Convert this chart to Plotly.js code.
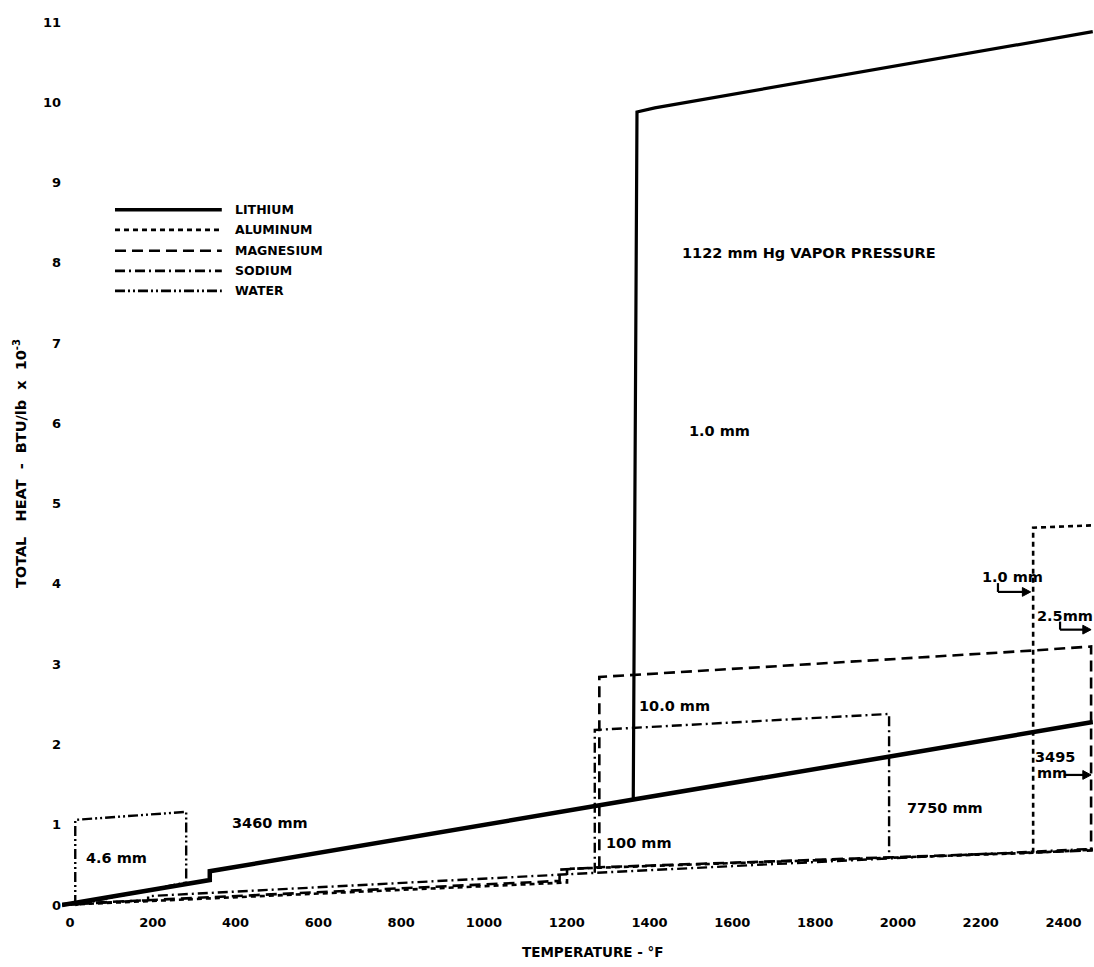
<!DOCTYPE html>
<html><head><meta charset="utf-8">
<script src="https://cdn.plot.ly/plotly-3.0.1.min.js"></script>
<style>html,body{margin:0;padding:0;background:#fff}</style>
</head><body><div id="chart" style="width:1094px;height:967px"></div>
<script>
// Temperature (°F) and total heat (BTU/lb x 10^-3)
const xTickVals = [0, 200, 400, 600, 800, 1000, 1200, 1400, 1600, 1800, 2000, 2200, 2400];
const yTickVals = [0, 1, 2, 3, 4, 5, 6, 7, 8, 9, 10, 11];

const lithiumLiquidT = [0, 357, 357, 800, 1377, 2000, 2490];
const lithiumLiquidH = [0.00, 0.31, 0.42, 0.81, 1.31, 1.85, 2.28];
const lithiumVaporT = [1380, 1389, 1432, 2490];
const lithiumVaporH = [1.31, 9.88, 9.93, 10.88];

const aluminumT = [0, 1220, 1220, 2346, 2490, null, 2346, 2346, 2490];
const aluminumH = [0.00, 0.28, 0.45, 0.65, 0.69, null, 0.65, 4.70, 4.73];

const magnesiumT = [0, 1202, 1202, 1298, 2490, null, 1298, 1298, 2346, 2486, 2486];
const magnesiumH = [0.01, 0.30, 0.44, 0.47, 0.68, null, 0.47, 2.84, 3.17, 3.22, 0.68];

const sodiumT = [0, 208, 208, 1287, 1998, 2490, null, 1287, 1287, 1998, 1998];
const sodiumH = [0.00, 0.06, 0.11, 0.40, 0.58, 0.70, null, 0.40, 2.18, 2.38, 0.58];

const waterT = [32, 300, null, 32, 32, 300, 300];
const waterH = [0.00, 0.28, null, 0.00, 1.06, 1.16, 0.28];

const seriesNames = ['LITHIUM', 'ALUMINUM', 'MAGNESIUM', 'SODIUM', 'WATER'];

const K = 'black';
const dashes = {
  LITHIUM: 'solid',
  ALUMINUM: '5px,4px',
  MAGNESIUM: '11px,6px',
  SODIUM: '10px,4px,2px,4px',
  WATER: '10px,3px,2px,3px,2px,3px'
};
const LEGFONT = {family: 'DejaVu Sans', size: 12.5, color: K, weight: 'bold'};
const FONT = {family: 'DejaVu Sans', size: 14.5, color: K, weight: 'bold'};

const traces = [
  {x: lithiumLiquidT, y: lithiumLiquidH, mode: 'lines', line: {color: K, width: 4.5}},
  {x: lithiumVaporT, y: lithiumVaporH, mode: 'lines', line: {color: K, width: 3.2}},
  {x: aluminumT, y: aluminumH, mode: 'lines', line: {color: K, width: 2.6, dash: dashes.ALUMINUM}},
  {x: magnesiumT, y: magnesiumH, mode: 'lines', line: {color: K, width: 2.6, dash: dashes.MAGNESIUM}},
  {x: sodiumT, y: sodiumH, mode: 'lines', line: {color: K, width: 2.4, dash: dashes.SODIUM}},
  {x: waterT, y: waterH, mode: 'lines', line: {color: K, width: 2.4, dash: dashes.WATER}}
].map(t => Object.assign(t, {showlegend: false, hoverinfo: 'skip', connectgaps: false}));

// manual legend
const legendT0 = 128, legendT1 = 386, legendTextT = 413;
const legendRows = [8.66, 8.41, 8.15, 7.90, 7.65];
const shapes = [];
const annotations = [];
seriesNames.forEach((n, i) => {
  shapes.push({type: 'line', xref: 'x', yref: 'y', x0: legendT0, x1: legendT1, y0: legendRows[i], y1: legendRows[i],
    line: {color: K, width: n === 'LITHIUM' ? 3.5 : 2.6, dash: dashes[n]}});
  annotations.push({x: legendTextT, y: legendRows[i], xref: 'x', yref: 'y', text: n, showarrow: false,
    xanchor: 'left', yanchor: 'middle', font: LEGFONT});
});

function label(t, h, text, anchor) {
  annotations.push({x: t, y: h, xref: 'x', yref: 'y', text: text, showarrow: false,
    xanchor: anchor || 'left', yanchor: 'middle', font: FONT});
}
label(1493, 8.12, '1122 mm Hg VAPOR PRESSURE');
label(1589, 5.90, '1.0 mm', 'center');
label(1390, 2.48, '10.0 mm');
label(1310, 0.77, '100 mm');
label(2036, 1.21, '7750 mm');
label(406, 1.02, '3460 mm');
label(53, 0.59, '4.6 mm');
label(2295, 4.09, '1.0 mm', 'center');
label(2350, 3.60, '2.5mm');
label(2346, 1.84, '3495');
label(2350, 1.64, 'mm');

// arrows drawn as shapes (shaft + head)
function arrowRight(t0, t1, h) {
  shapes.push({type: 'line', xref: 'x', yref: 'y', x0: t0, x1: t1 - 12, y0: h, y1: h, line: {color: K, width: 2.2}});
  shapes.push({type: 'path', xref: 'x', yref: 'y',
    path: `M ${t1 - 20},${h + 0.055} L ${t1},${h} L ${t1 - 20},${h - 0.055} Z`,
    fillcolor: K, line: {color: K, width: 1}});
}
function elbow(tx, y0, y1, tHead) {
  shapes.push({type: 'line', xref: 'x', yref: 'y', x0: tx, x1: tx, y0: y0, y1: y1, line: {color: K, width: 2.2}});
  arrowRight(tx, tHead, y1);
}
elbow(2261, 4.01, 3.90, 2340);
elbow(2411, 3.53, 3.43, 2486);
arrowRight(2420, 2486, 1.62);

// x-axis title, placed a little right of the plot centre as in the reference
annotations.push({x: 0.515, y: -0.043, xref: 'paper', yref: 'paper', text: 'TEMPERATURE - °F', showarrow: false,
  xanchor: 'center', yanchor: 'middle', font: {family: 'DejaVu Sans', size: 13.5, color: K, weight: 'bold'}});

const TICKFONT = {family: 'DejaVu Sans', size: 13, color: K, weight: 'bold'};
const layout = {
  width: 1094, height: 967,
  margin: {l: 62, r: 0, t: 14, b: 54},
  paper_bgcolor: 'white', plot_bgcolor: 'white',
  showlegend: false,
  xaxis: {range: [0, 2493], tickvals: xTickVals, ticktext: xTickVals.map(String), showgrid: false, zeroline: false,
    showline: false, ticks: '', ticklabelshift: 8, tickfont: TICKFONT},
  yaxis: {range: [-0.1, 11.1], tickvals: yTickVals, ticktext: yTickVals.map(String), showgrid: false, zeroline: false,
    showline: false, ticks: '', tickfont: TICKFONT,
    title: {text: 'TOTAL   HEAT  -  BTU/lb  x  10<sup>-3</sup>', font: {family: 'DejaVu Sans', size: 14.5, color: K, weight: 'bold'}, standoff: 12}},
  shapes: shapes,
  annotations: annotations
};
Plotly.newPlot('chart', traces, layout, {displayModeBar: false, staticPlot: true});
</script>
</body></html>
